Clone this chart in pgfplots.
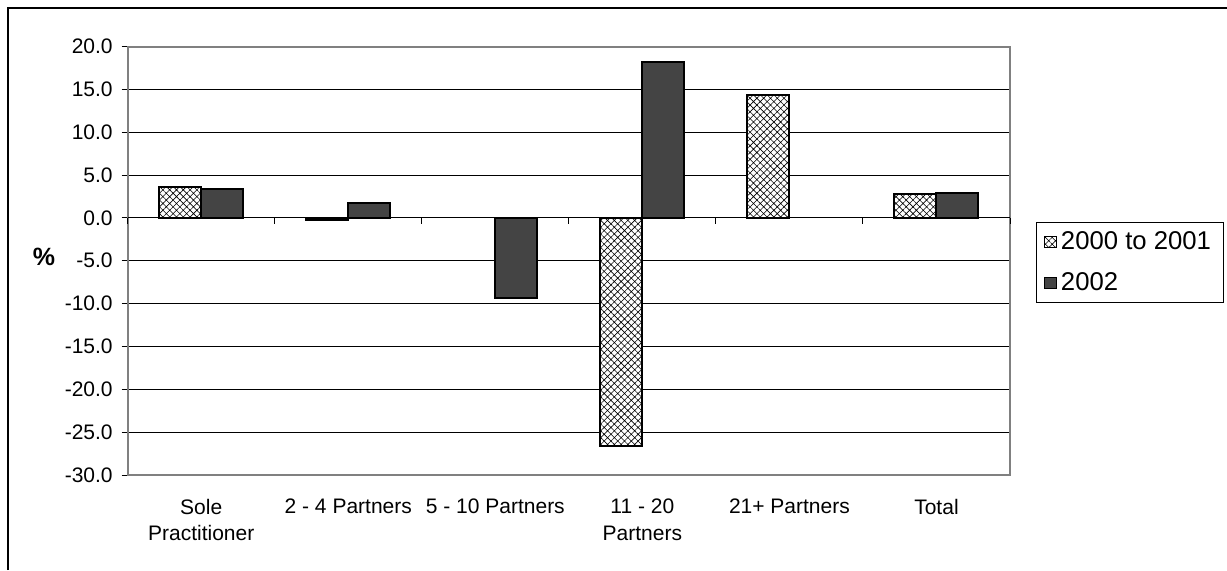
\documentclass[border=0pt]{standalone}
\usepackage{fontspec}
\setmainfont{Liberation Sans}
\usepackage{pgfplots}
\pgfplotsset{compat=1.18}
\usetikzlibrary{patterns.meta}

\definecolor{darkbar}{RGB}{68,68,68}
\definecolor{framegray}{RGB}{128,128,128}

\tikzset{
  weave/.style={fill=white, postaction={pattern={Hatch[angle=45,distance=2.4pt,line width=0.3pt]}}},
}

\begin{document}
\begin{tikzpicture}
\useasboundingbox (0,0) rectangle (613.5pt,285pt);
% chart border (left and top edges)
\draw[line width=1pt] (4.15pt,0) -- (4.15pt,281.25pt) -- (613.5pt,281.25pt);

\begin{axis}[
  at={(63.85pt,47.5pt)}, anchor=south west,
  scale only axis, width=441.15pt, height=214.25pt,
  xmin=0.5, xmax=6.5, ymin=-30, ymax=20,
  axis line style={draw=framegray, line width=1pt},
  ytick={-30,-25,...,20},
  yticklabels={-30.0,-25.0,-20.0,-15.0,-10.0,-5.0,0.0,5.0,10.0,15.0,20.0},
  ytick pos=left, tick align=outside, major tick length=3pt,
  y tick style={black, line width=0.5pt},
  ymajorgrids, grid style={black, line width=0.5pt},
  yticklabel style={font=\fontsize{10.5}{12}\selectfont, xshift=-1pt},
  xtick={1,...,6},
  xticklabels={Sole\\Practitioner, 2 - 4 Partners, 5 - 10 Partners, 11 - 20\\Partners, 21+ Partners, Total},
  x tick style={draw=none},
  xticklabel style={font=\fontsize{10.5}{13.3}\selectfont, align=center, yshift=-5.5pt},
  ylabel={\textbf{\%}},
  every axis y label/.style={at={(axis description cs:0,0.5)}, anchor=center, xshift=-41.85pt, yshift=2pt, font=\fontsize{12.5}{14}\selectfont},
  ybar, bar width=0.2857,
  legend style={at={(1.029,0.5904)}, anchor=north west, draw=black, line width=0.5pt,
    font=\fontsize{12.85}{14}\selectfont, inner xsep=4pt, inner ysep=2.5pt,
    row sep=6pt, legend cell align=left},
  legend image code/.code={\draw[#1, line width=0.6pt] (0pt,-2.9pt) rectangle (5.85pt,2.9pt);},
]
\addplot[draw=black, line width=1pt, weave, bar shift=-0.14286]
  coordinates {(1,3.6) (2,-0.3) (4,-26.6) (5,14.3) (6,2.8)};
\addplot[draw=black, line width=1pt, fill=darkbar, bar shift=0.14286]
  coordinates {(1,3.4) (2,1.7) (3,-9.3) (4,18.2) (6,2.9)};
\legend{2000 to 2001, 2002}
\end{axis}

% category boundary ticks hanging below the zero line
\begin{axis}[
  at={(63.85pt,47.5pt)}, anchor=south west,
  scale only axis, width=441.15pt, height=214.25pt,
  xmin=0.5, xmax=6.5, ymin=-30, ymax=20,
  axis x line*=middle, axis y line=none,
  x axis line style={-, black, line width=0.5pt},
  xtick={0.5,1.5,...,6.5}, xticklabels={},
  tick align=outside, major tick length=3pt,
  x tick style={black, line width=0.5pt},
]
\addplot[draw=none] coordinates {(1,0)};
\end{axis}
\end{tikzpicture}
\end{document}
